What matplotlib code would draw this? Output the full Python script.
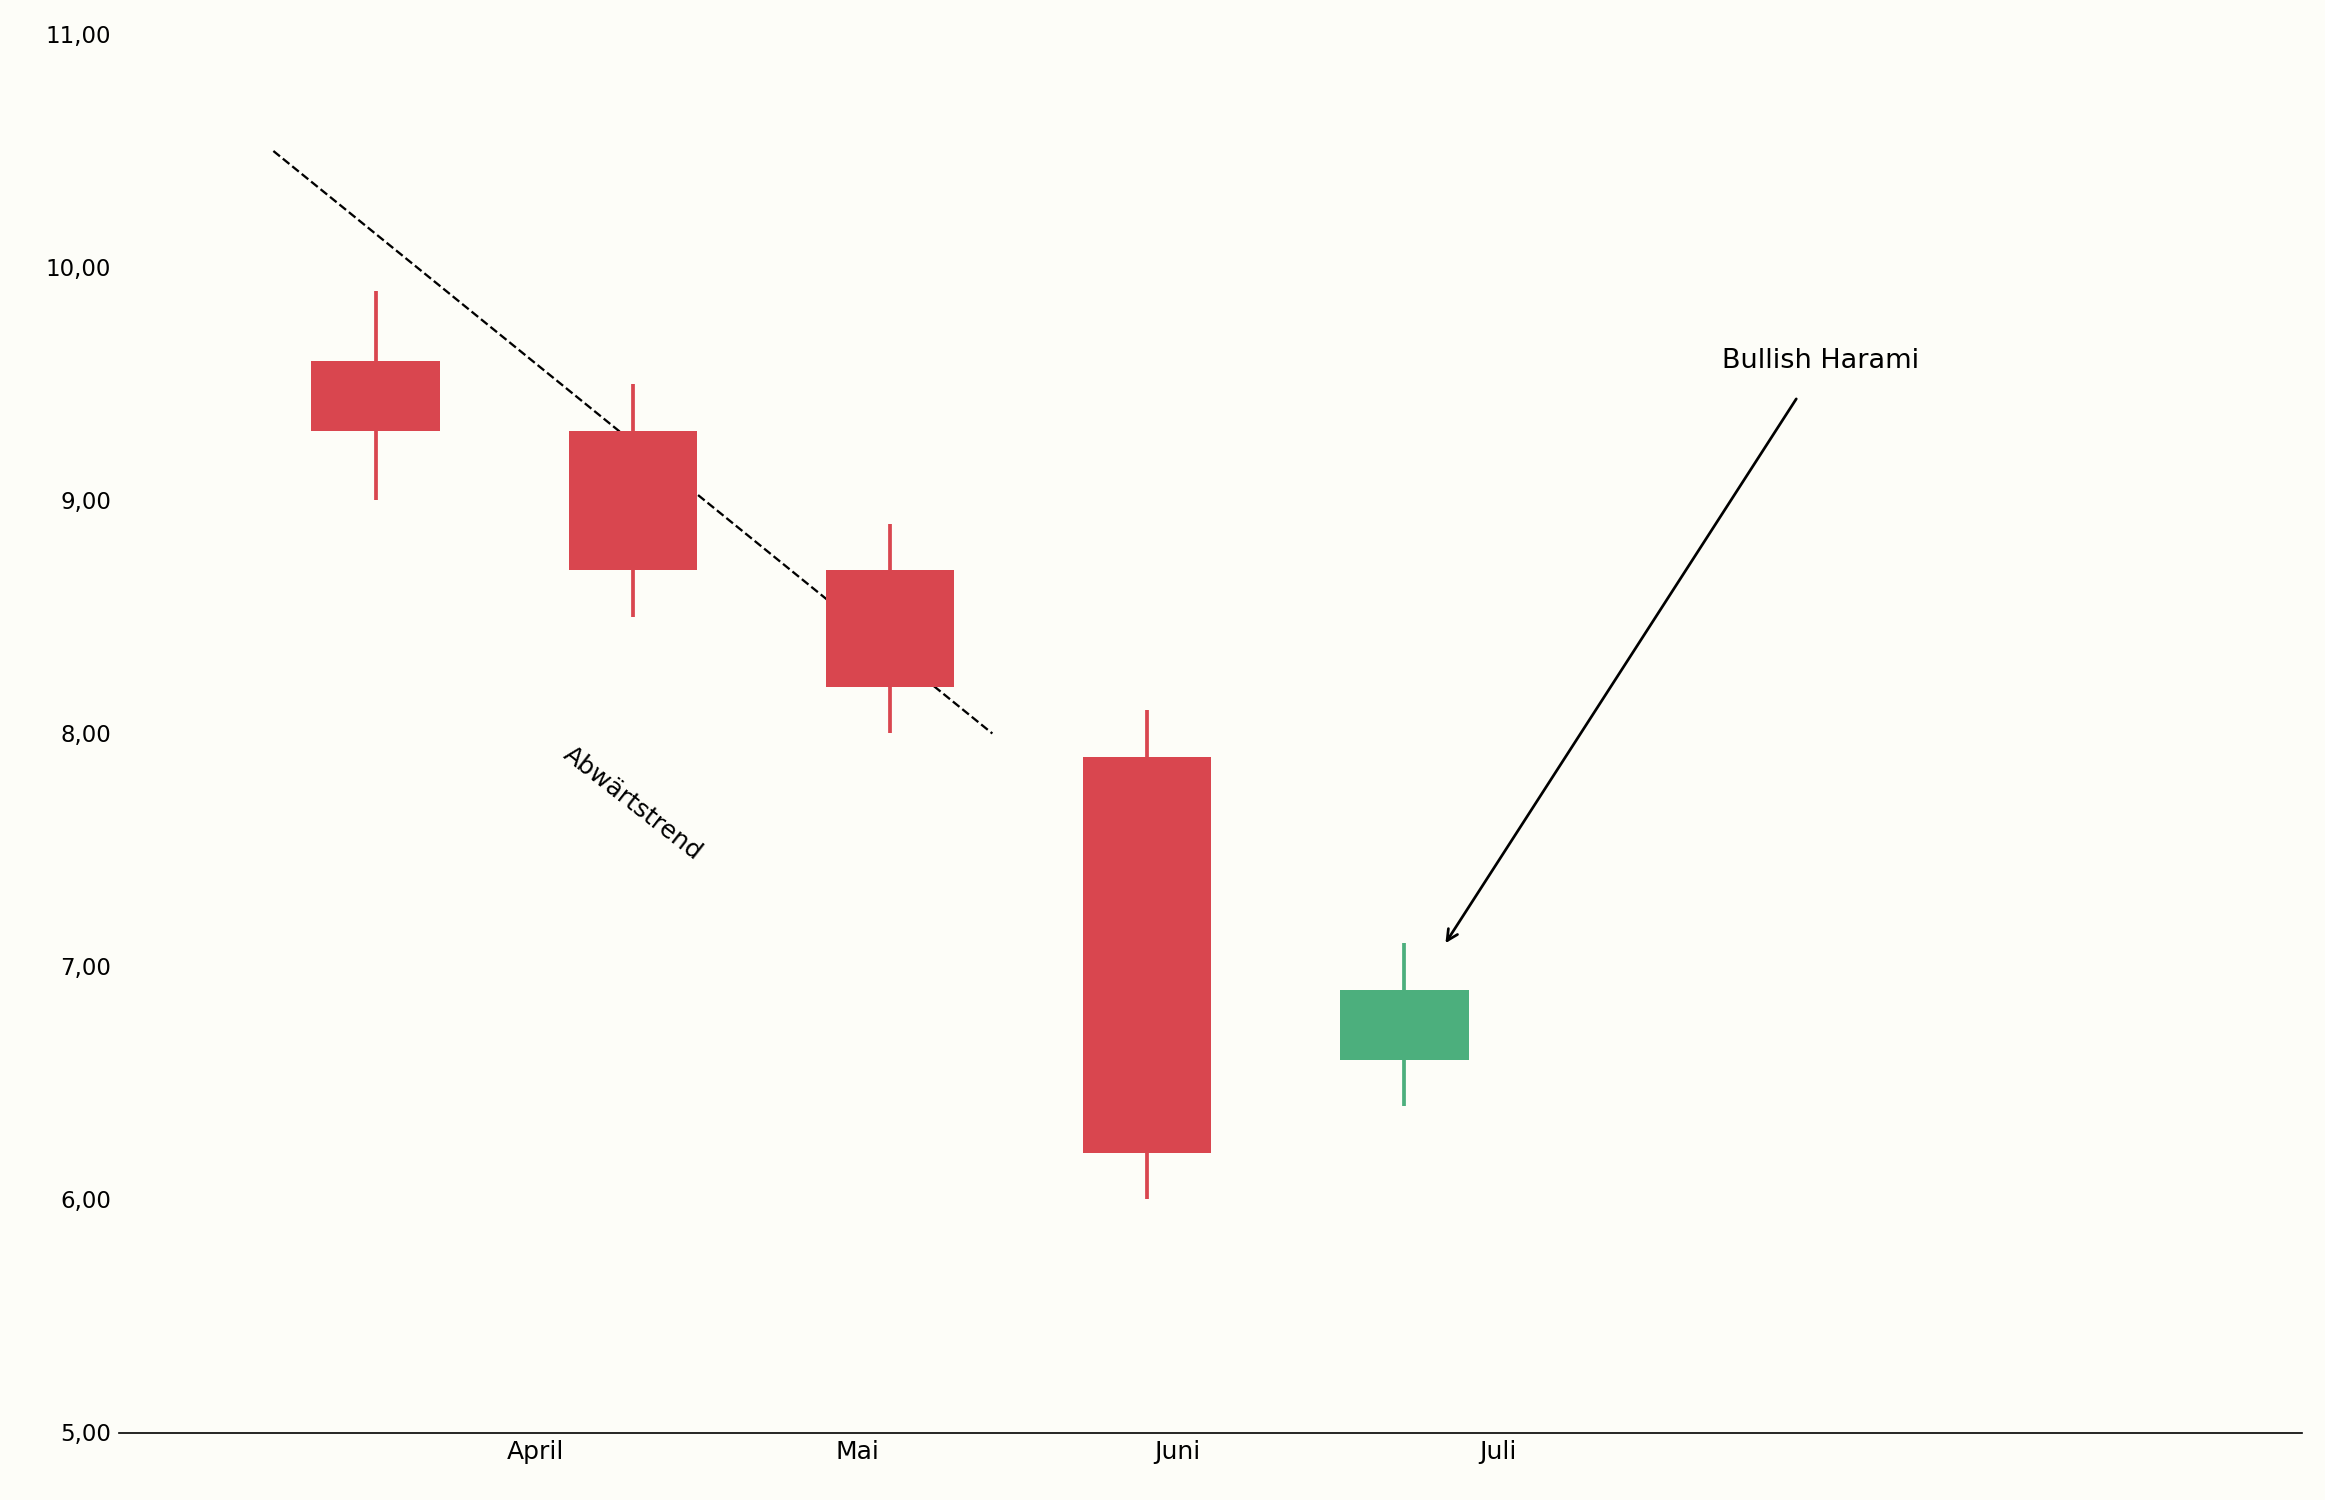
import matplotlib
matplotlib.use("Agg")
import matplotlib.pyplot as plt
from matplotlib.ticker import FuncFormatter

opens = [9.6, 9.3, 8.7, 7.9, 6.6]
closes = [9.3, 8.7, 8.2, 6.2, 6.9]
highs = [9.9, 9.5, 8.9, 8.1, 7.1]
lows = [9.0, 8.5, 8.0, 6.0, 6.4]
month_labels = ["April", "Mai", "Juni", "Juli"]
month_pos = [0.622, 1.873, 3.118, 4.363]
trend_x = [-0.398, 2.398]
trend_y = [10.5, 8.0]

bg = "#fdfdf8"
red = "#d9464f"
green = "#4caf7d"

fig = plt.figure(figsize=(15.5, 10), dpi=150, facecolor=bg)
ax = fig.add_axes([0.051, 0.045, 0.939, 0.932], facecolor=bg)

for i, (o, c, h, l) in enumerate(zip(opens, closes, highs, lows)):
    col = green if c > o else red
    ax.vlines(i, l, h, color=col, linewidth=1.8, zorder=2)
    ax.bar(i, abs(c - o), bottom=min(o, c), width=0.5, color=col, zorder=3)

ax.plot(trend_x, trend_y, linestyle="--", color="black", linewidth=1.1, zorder=1)
ax.text(1.0, 7.7, "Abwärtstrend", rotation=-38, ha="center", va="center", fontsize=12)
ax.annotate("Bullish Harami", xy=(4.16, 7.1), xytext=(5.62, 9.6), fontsize=13,
            ha="center", va="center",
            arrowprops=dict(arrowstyle="->", color="black", lw=1.3, shrinkB=0, shrinkA=12))

ax.set_xlim(-1, 7.49)
ax.set_ylim(5, 11)
ax.set_yticks([5, 6, 7, 8, 9, 10, 11])
ax.yaxis.set_major_formatter(FuncFormatter(lambda v, p: f"{v:.2f}".replace(".", ",")))
ax.set_xticks(month_pos)
ax.set_xticklabels(month_labels, fontsize=12)
ax.tick_params(axis="y", length=0, labelsize=11)
ax.tick_params(axis="x", length=0, labelsize=12)
for s in ["top", "right", "left"]:
    ax.spines[s].set_visible(False)
ax.spines["bottom"].set_linewidth(0.8)

fig.savefig("out.png", facecolor=bg)
